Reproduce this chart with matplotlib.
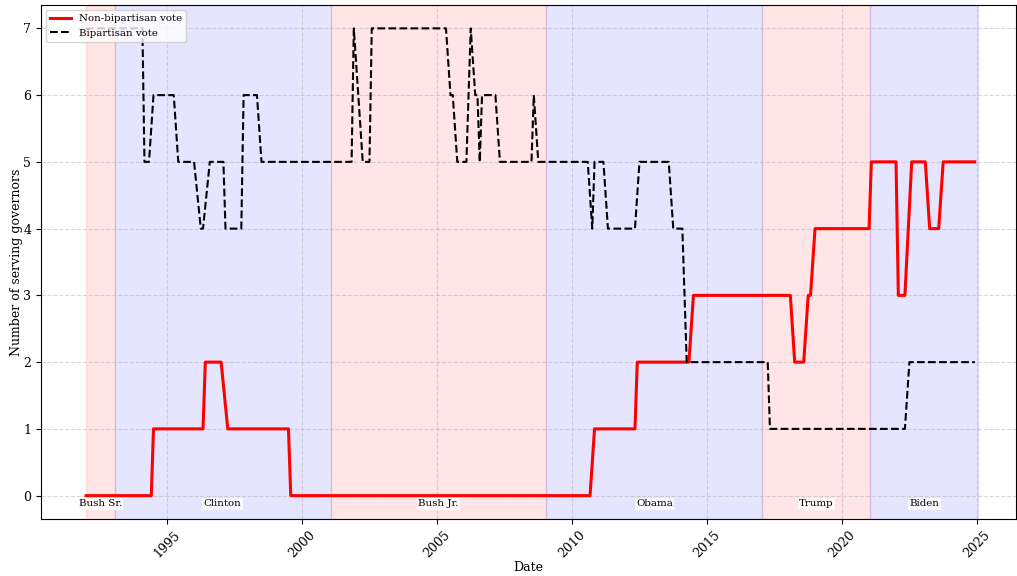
import pandas as pd
import matplotlib.pyplot as plt
import matplotlib.dates as mdates

# vertices of the two series (month, number of governors)
nonbip_dates = [
    "1992-01", "1994-06", "1994-07", "1996-05", "1996-06", "1997-01", "1997-04",
    "1999-07", "1999-08", "2010-09", "2010-11", "2012-05", "2012-06", "2014-05",
    "2014-07", "2018-02", "2018-04", "2018-08", "2018-10", "2018-11", "2019-01",
    "2021-01", "2021-02", "2022-01", "2022-02", "2022-05", "2022-08", "2023-02",
    "2023-04", "2023-08", "2023-10", "2024-12",
]
nonbip_values = [
    0, 0, 1, 1, 2, 2, 1,
    1, 0, 0, 1, 1, 2, 2,
    3, 3, 2, 2, 3, 3, 4,
    4, 5, 5, 3, 3, 5, 5,
    4, 4, 5, 5,
]

bip_dates = [
    "1992-01", "1994-02", "1994-03", "1994-05", "1994-07", "1995-04", "1995-06",
    "1996-01", "1996-04", "1996-05", "1996-08", "1997-02", "1997-03", "1997-10",
    "1997-11", "1998-05", "1998-07", "2001-11", "2001-12", "2002-04", "2002-07",
    "2002-08", "2005-05", "2005-07", "2005-08", "2005-10", "2006-02", "2006-04",
    "2006-06", "2006-07", "2006-08", "2006-09", "2007-03", "2007-05", "2008-07",
    "2008-08", "2008-10", "2010-08", "2010-10", "2010-11", "2011-03", "2011-05",
    "2012-05", "2012-07", "2013-08", "2013-10", "2014-02", "2014-04", "2017-04",
    "2017-05", "2022-05", "2022-07", "2024-12",
]
bip_values = [
    7, 7, 5, 5, 6, 6, 5,
    5, 4, 4, 5, 5, 4, 4,
    6, 6, 5, 5, 7, 5, 5,
    7, 7, 6, 6, 5, 5, 7,
    6, 6, 5, 6, 6, 5, 5,
    6, 5, 5, 4, 5, 5, 4,
    4, 5, 5, 4, 4, 2, 2,
    1, 1, 2, 2,
]

# presidencies
presidents = ["Bush Sr.", "Clinton", "Bush Jr.", "Obama", "Trump", "Biden"]
term_start = ["1992-01-01", "1993-01-20", "2001-01-20", "2009-01-20", "2017-01-20", "2021-01-20"]
term_end = ["1993-01-20", "2001-01-20", "2009-01-20", "2017-01-20", "2021-01-20", "2025-01-20"]
party = ["R", "D", "R", "D", "R", "D"]

plt.rcParams["font.family"] = "DejaVu Serif"

fig = plt.figure(figsize=(10.17, 5.76), dpi=100)
ax = fig.add_axes([41 / 1017, 1 - 519 / 576, 975 / 1017, 514 / 576])

for name, s, e, p in zip(presidents, term_start, term_end, party):
    s, e = pd.Timestamp(s), pd.Timestamp(e)
    ax.axvspan(s, e, color="red" if p == "R" else "blue", alpha=0.1)
    ax.text(s + (e - s) / 2, -0.12, name, ha="center", va="center", fontsize=7.4,
            bbox=dict(facecolor="white", edgecolor="none", alpha=0.8, pad=1))

ax.plot(pd.to_datetime(nonbip_dates), nonbip_values, color="red", linewidth=2.2,
        label="Non-bipartisan vote")
ax.plot(pd.to_datetime(bip_dates), bip_values, color="black", linestyle="--",
        linewidth=1.5, label="Bipartisan vote")

ax.set_xlim(pd.Timestamp("1990-05-01"), pd.Timestamp("2026-06-12"))
ax.set_ylim(-0.35, 7.35)
ax.xaxis.set_major_locator(mdates.YearLocator(5))
ax.xaxis.set_major_formatter(mdates.DateFormatter("%Y"))
plt.setp(ax.get_xticklabels(), rotation=45, fontsize=9)
plt.setp(ax.get_yticklabels(), fontsize=9)

ax.set_xlabel("Date", fontsize=9, labelpad=0.5)
ax.set_ylabel("Number of serving governors", fontsize=9, labelpad=0.5)
ax.grid(True, linestyle="--", alpha=0.5)
ax.legend(loc="upper left", fontsize=7.4)

fig.savefig("out.png", dpi=100)
